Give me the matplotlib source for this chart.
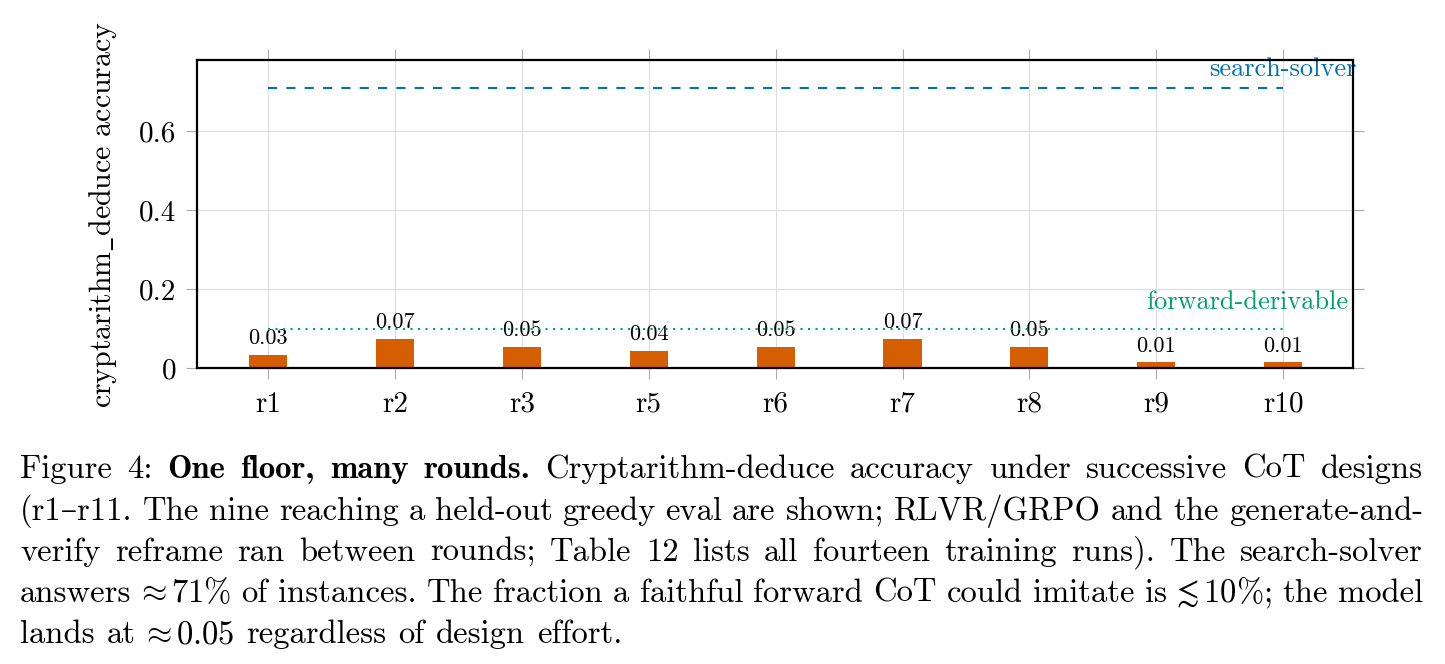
import matplotlib
matplotlib.use('Agg')
import matplotlib.pyplot as plt

# data
rounds = ['r1', 'r2', 'r3', 'r5', 'r6', 'r7', 'r8', 'r9', 'r10']
accuracy = [0.034, 0.074, 0.054, 0.044, 0.054, 0.074, 0.054, 0.014, 0.014]
search_solver = 0.71
forward_derivable = 0.10
yticks = [0, 0.2, 0.4, 0.6]
ytick_labels = ['0', '0.2', '0.4', '0.6']

caption_lines = [
    "Figure 4: One floor, many rounds. Cryptarithm-deduce accuracy under successive CoT designs",
    "(r1\u2013r11. The nine reaching a held-out greedy eval are shown; RLVR/GRPO and the generate-and-",
    "verify reframe ran between rounds; Table 12 lists all fourteen training runs). The search-solver",
    r"answers $\!\!\approx$71% of instances. The fraction a faithful forward CoT could imitate is $\!\!\lesssim$10%; the model",
    r"lands at $\!\!\approx$0.05 regardless of design effort.",
]
bold_words = [2, 3, 4, 5]  # word indices on the first caption line

plt.rcParams['font.family'] = ['cmr10', 'DejaVu Serif']
plt.rcParams['mathtext.fontset'] = 'cm'
plt.rcParams['axes.formatter.use_mathtext'] = True

W, H = 1445, 664
fig = plt.figure(figsize=(W / 100, H / 100), dpi=100)
ax = fig.add_axes([197 / W, 1 - 368 / H, (1353 - 197) / W, (368 - 60) / H])

x = list(range(len(rounds)))
bars = ax.bar(x, accuracy, width=0.3, color='#D55E00', zorder=3)
ax.bar_label(bars, labels=['%.2f' % v for v in accuracy], padding=5, fontsize=16)

ax.plot([x[0], x[-1]], [search_solver, search_solver], color='#0072B2', lw=1.5,
        linestyle=(0, (4.4, 4.4)), zorder=4)
ax.plot([x[0], x[-1]], [forward_derivable, forward_derivable], color='#009E73', lw=1.5,
        linestyle=(0, (1, 2.6)), zorder=4)
ax.text(1.003, 0.74, 'search-solver', color='#0072B2', fontsize=19, ha='right',
        va='baseline', transform=ax.get_yaxis_transform())
ax.text(0.996, 0.15, 'forward-derivable', color='#009E73', fontsize=19, ha='right',
        va='baseline', transform=ax.get_yaxis_transform())

ax.set_xlim(-0.56, 8.55)
ax.set_ylim(0, 0.78)
ax.set_xticks(x)
ax.set_xticklabels(rounds)
ax.set_yticks(yticks)
ax.set_yticklabels(ytick_labels)
ax.tick_params(axis='both', which='both', direction='out', length=8, width=0.8,
               color='#aaaaaa', labelsize=21, top=True, right=True)
ax.tick_params(axis='y', pad=7)
ax.tick_params(axis='x', pad=9)
ax.grid(True, color='#dddddd', lw=0.8, zorder=0)
for s in ax.spines.values():
    s.set_linewidth(1.6)
    s.set_zorder(5)

ax.set_ylabel(r'cryptarithm$\_$deduce accuracy', fontsize=21.5)
ax.yaxis.set_label_coords((103 - 197) / 1156, 0.5)
ax.yaxis.label.set_verticalalignment('center')

# caption, justified between x0 and x1
cap_size = 23.5
x0, x1 = 20, 1423
baselines = [478, 520, 561, 602, 643]
fig.canvas.draw()
renderer = fig.canvas.get_renderer()
for i, line in enumerate(caption_lines):
    words = line.split(' ')
    texts = []
    for j, w in enumerate(words):
        fam = 'cmb10' if (i == 0 and j in bold_words) else None
        texts.append(fig.text(0, 1 - baselines[i] / H, w, fontsize=cap_size,
                              va='baseline', ha='left', family=fam))
    widths = [t.get_window_extent(renderer).width for t in texts]
    if i < len(caption_lines) - 1:
        gap = (x1 - x0 - sum(widths)) / (len(words) - 1)
    else:
        gap = 0.36 * cap_size * 100 / 72
    pos = x0
    for t, w in zip(texts, widths):
        t.set_x(pos / W)
        pos += w + gap

fig.savefig('out.png', dpi=100)
